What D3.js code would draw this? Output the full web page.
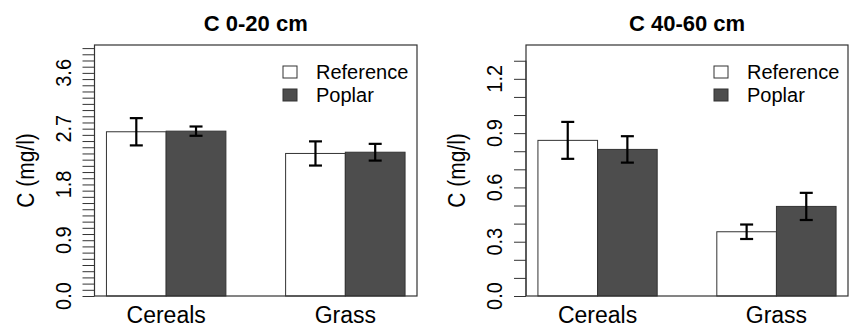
<!DOCTYPE html>
<html>
<head>
<meta charset="utf-8">
<script src="https://cdn.jsdelivr.net/npm/d3@7"></script>
<style>
  body { margin: 0; background: #fff; }
  text { font-family: "Liberation Sans", Arial, sans-serif; fill: #000; }
</style>
</head>
<body>
<script>
// data
var groups = ["Cereals", "Grass"];
var series = ["Reference", "Poplar"];

// C 0-20 cm
var topRef = [2.65, 2.30],
    topPop = [2.66, 2.32],
    topRefSe = [0.22, 0.195],
    topPopSe = [0.075, 0.135];
var topTickLabels = [0, 0.9, 1.8, 2.7, 3.6];

// C 40-60 cm
var deepRef = [0.86, 0.355],
    deepPop = [0.81, 0.495],
    deepRefSe = [0.102, 0.04],
    deepPopSe = [0.073, 0.075];
var deepTickLabels = [0, 0.3, 0.6, 0.9, 1.2];

var fills = ["#ffffff", "#4d4d4d"];

var W = 849, H = 330;
var svg = d3.select("body").append("svg")
    .attr("width", W)
    .attr("height", H);

function panel(p) {
  var x = d3.scaleLinear().domain([0.8, 6.2]).range([p.left, p.right]);
  var y = d3.scaleLinear().domain([0, p.ymax]).range([296, 45]);
  var g = svg.append("g");

  // bars + error bars
  var rows = [];
  groups.forEach(function(gr, i) {
    rows.push({pos: 1 + 3 * i, v: p.ref[i], se: p.refSe[i], s: 0});
    rows.push({pos: 2 + 3 * i, v: p.pop[i], se: p.popSe[i], s: 1});
  });

  g.selectAll("rect.bar").data(rows).enter().append("rect")
    .attr("class", "bar")
    .attr("x", function(d) { return x(d.pos); })
    .attr("width", function(d) { return x(d.pos + 1) - x(d.pos); })
    .attr("y", function(d) { return y(d.v); })
    .attr("height", function(d) { return y(0) - y(d.v); })
    .attr("fill", function(d) { return fills[d.s]; })
    .attr("stroke", "#333")
    .attr("stroke-width", 1);

  var eb = g.selectAll("g.err").data(rows).enter().append("g")
    .attr("class", "err")
    .attr("stroke", "#000")
    .attr("stroke-width", 2.2);
  eb.append("line")
    .attr("x1", function(d) { return x(d.pos + 0.5); })
    .attr("x2", function(d) { return x(d.pos + 0.5); })
    .attr("y1", function(d) { return y(d.v + d.se); })
    .attr("y2", function(d) { return y(d.v - d.se); });
  [1, -1].forEach(function(sg) {
    eb.append("line")
      .attr("x1", function(d) { return x(d.pos + 0.5) - 6.5; })
      .attr("x2", function(d) { return x(d.pos + 0.5) + 6.5; })
      .attr("y1", function(d) { return y(d.v + sg * d.se); })
      .attr("y2", function(d) { return y(d.v + sg * d.se); });
  });

  // box
  g.append("rect")
    .attr("x", p.left).attr("y", 45)
    .attr("width", p.right - p.left).attr("height", 251)
    .attr("fill", "none").attr("stroke", "#333").attr("stroke-width", 1.2);

  // y axis: minor ticks every 0.1, labels at the given ones
  var ticks = d3.range(0, p.tickTop + 0.0001, 0.1);
  var ax = d3.axisLeft(y).tickValues(ticks).tickSize(12).tickFormat("");
  var axg = g.append("g")
    .attr("transform", "translate(" + p.left + ",0)")
    .call(ax);
  axg.select(".domain").attr("stroke", "#333").attr("d", "M0," + y(0) + "V" + y(ticks[ticks.length - 1]));
  axg.selectAll(".tick line").attr("stroke", "#333");

  // rotated labels, a bit taller than wide like the original
  g.selectAll("text.tl").data(p.labels).enter().append("text")
    .attr("class", "tl")
    .attr("transform", function(d) {
      return "translate(" + (p.left - 24) + "," + y(d) + ") rotate(-90) scale(1,1.12)";
    })
    .attr("text-anchor", "middle")
    .attr("font-size", 20)
    .text(function(d) { return d3.format(".1f")(d); });

  // y title
  g.append("text")
    .attr("transform", "translate(" + (p.left - 61) + "," + y(p.ymax / 2) + ") rotate(-90) scale(1,1.1)")
    .attr("text-anchor", "middle")
    .attr("font-size", 21)
    .text("C (mg/l)");

  // group labels
  g.selectAll("text.gl").data(groups).enter().append("text")
    .attr("class", "gl")
    .attr("x", function(d, i) { return x(2 + 3 * i); })
    .attr("y", 323)
    .attr("text-anchor", "middle")
    .attr("font-size", 23)
    .text(function(d) { return d; });

  // title
  g.append("text")
    .attr("x", (p.left + p.right) / 2)
    .attr("y", 31)
    .attr("text-anchor", "middle")
    .attr("font-size", 22)
    .attr("font-weight", "bold")
    .text(p.title);

  // legend
  var lg = g.append("g").attr("transform", "translate(" + (p.right - 134) + ",0)");
  series.forEach(function(s, i) {
    lg.append("rect")
      .attr("x", 0).attr("y", 66 + i * 23)
      .attr("width", 14).attr("height", 12)
      .attr("fill", fills[i]).attr("stroke", "#333");
    lg.append("text")
      .attr("x", 33).attr("y", 79 + i * 23)
      .attr("font-size", 20)
      .text(s);
  });
}

panel({left: 94.5, right: 417, ymax: 4.05, tickTop: 4.0,
       ref: topRef, pop: topPop, refSe: topRefSe, popSe: topPopSe,
       labels: topTickLabels, title: "C 0-20 cm"});
panel({left: 526, right: 848, ymax: 1.387, tickTop: 1.3,
       ref: deepRef, pop: deepPop, refSe: deepRefSe, popSe: deepPopSe,
       labels: deepTickLabels, title: "C 40-60 cm"});
</script>
</body>
</html>
